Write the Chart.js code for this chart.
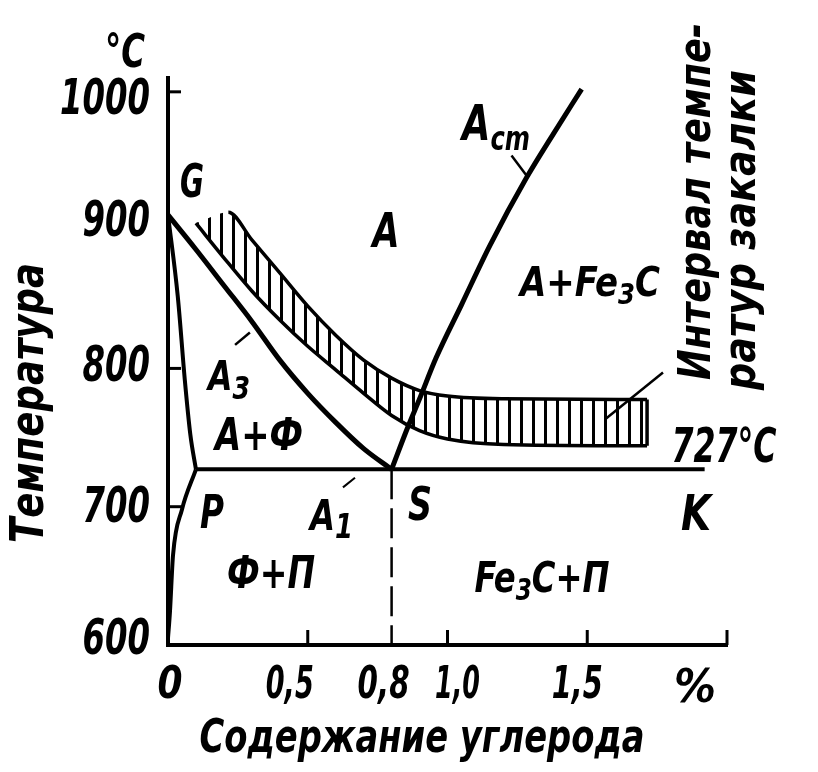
<!DOCTYPE html>
<html>
<head>
<meta charset="utf-8">
<script src="https://cdn.jsdelivr.net/npm/chart.js@4.4.1/dist/chart.umd.min.js"></script>
<style>
    html, body { margin: 0; padding: 0; background: #fff; }
    #wrap { width: 818px; height: 772px; position: relative; }
</style>
</head>
<body>
<div id="wrap"><canvas id="diagram"></canvas></div>
<script>
// Axis ticks: carbon content, % / temperature, °C
const xTicks = [0, 0.5, 0.8, 1.0, 1.5];
const xTickLabels = ['0', '0,5', '0,8', '1,0', '1,5'];
const xTickMarks = [0.5, 1.0, 1.5, 2.0];
const yTicks = [600, 700, 800, 900, 1000];
const yTickMarks = [700, 800, 1000];

// Phase lines [carbon %, temperature]
const gpLine = [[0, 911], [0.035, 852], [0.06, 792], [0.08, 752], [0.1, 727]];
const pqLine = [[0, 605], [0.007, 624], [0.018, 665], [0.05, 698], [0.1, 727]];
const a3Line = [[0, 911], [0.1, 886], [0.2, 860], [0.3, 834], [0.4, 806], [0.5, 782], [0.6, 761], [0.7, 742], [0.8, 727]];
const acmLine = [[0.8, 727], [0.855, 756], [0.9, 778], [0.96, 808], [1.05, 846], [1.152, 889], [1.283, 938], [1.38, 970], [1.48, 1002]];
const a1Line = [[0.1, 727], [1.92, 727]];
const sDrop = [[0.8, 727], [0.8, 600]];

// Quench temperature interval (hatched band)
const bandTop = [[0.1, 905], [0.216, 913], [0.3, 893], [0.4, 869], [0.5, 845], [0.6, 824], [0.7, 806], [0.8, 793], [0.9, 784], [1.0, 780], [1.2, 778], [1.714, 777.5]];
const bandBottom = [[0.1, 905], [0.2, 880], [0.3, 856], [0.4, 835], [0.5, 816], [0.6, 799], [0.7, 782], [0.8, 766], [0.9, 755], [1.0, 749], [1.2, 745], [1.714, 744]];
const bandEnd = [[1.714, 777.5], [1.714, 744]];

// Leader lines for labels
const a3Leader = [[0.24, 817], [0.293, 826]];
const a1Leader = [[0.626, 714], [0.669, 721]];
const acmLeader = [[1.229, 954], [1.288, 938]];
const bandLeader = [[1.563, 763], [1.771, 797]];

const FONT = "'DejaVu Sans Condensed', 'DejaVu Sans', sans-serif";

function fontStr(size) {
    return 'italic bold ' + size + 'px ' + FONT;
}

// hatch pattern: vertical stripes
function makeHatch() {
    const c = document.createElement('canvas');
    c.width = 12;
    c.height = 12;
    const g = c.getContext('2d');
    g.fillStyle = '#000';
    g.fillRect(4, 0, 3, 12);
    return g.createPattern(c, 'repeat');
}

function line(points, width, extra) {
    return Object.assign({
        data: points.map(p => ({ x: p[0], y: p[1] })),
        borderColor: '#000',
        borderWidth: width,
        pointRadius: 0,
        fill: false,
        tension: 0
    }, extra || {});
}

const smooth = { cubicInterpolationMode: 'monotone' };

// text with sub-parts: [text, sizeFactor, dyFactor]; narrowed to opt.width
function rich(ctx, parts, x, y, opt) {
    ctx.save();
    ctx.translate(x, y);
    if (opt.rotate) ctx.rotate(opt.rotate);
    ctx.textBaseline = 'alphabetic';
    ctx.textAlign = 'left';
    ctx.fillStyle = '#000';
    let total = 0;
    const widths = parts.map(p => {
        ctx.font = fontStr(opt.size * (p[1] || 1));
        const w = ctx.measureText(p[0]).width;
        total += w;
        return w;
    });
    if (opt.width) ctx.scale(opt.width / total, 1);
    let cx = -total / 2;
    if (opt.align === 'left') cx = 0;
    if (opt.align === 'right') cx = -total;
    parts.forEach((p, i) => {
        ctx.font = fontStr(opt.size * (p[1] || 1));
        ctx.fillText(p[0], cx, (p[2] || 0) * opt.size);
        cx += widths[i];
    });
    ctx.restore();
}

const labels = [
    { parts: [['°C']], x: 125, y: 67, size: 46, width: 40 },
    { parts: [['G']], x: 192, y: 197, size: 46, width: 24 },
    { parts: [['A']], x: 386, y: 247, size: 48, width: 27 },
    { parts: [['A'], ['cm', 0.66, 0.2]], x: 462, y: 140, size: 50, align: 'left', width: 68 },
    { parts: [['A+Fe'], ['3', 0.72, 0.2], ['C']], x: 520, y: 296, size: 40, align: 'left', width: 140 },
    { parts: [['A'], ['3', 0.8, 0.22]], x: 208, y: 390, size: 40, align: 'left', width: 42 },
    { parts: [['A+Ф']], x: 259, y: 450, size: 44, width: 88 },
    { parts: [['P']], x: 212, y: 528, size: 46, width: 24 },
    { parts: [['A'], ['1', 0.8, 0.2]], x: 310, y: 530, size: 42, align: 'left', width: 43 },
    { parts: [['S']], x: 420, y: 520, size: 46, width: 24 },
    { parts: [['K']], x: 696, y: 530, size: 50, width: 30 },
    { parts: [['Ф+П']], x: 271, y: 588, size: 44, width: 88 },
    { parts: [['Fe'], ['3', 0.72, 0.2], ['C+П']], x: 542, y: 592, size: 42, width: 135 },
    { parts: [['727°C']], x: 724, y: 462, size: 48, width: 105 },
    { parts: [['%']], x: 695, y: 702, size: 46, width: 42 },
    { parts: [['Содержание углерода']], x: 422, y: 752, size: 46, width: 445 },
    { parts: [['Температура']], x: 43, y: 543, size: 46, width: 280, align: 'left', rotate: -Math.PI / 2 },
    { parts: [['Интервал темпе-']], x: 710, y: 380, size: 44, width: 357, align: 'left', rotate: -Math.PI / 2 },
    { parts: [['ратур закалки']], x: 755, y: 390, size: 44, width: 320, align: 'left', rotate: -Math.PI / 2 }
];

// hand-lettered tick labels sit a little off their ticks
const xLabelWidths = [25, 48, 52, 45, 51];
const xLabelShift = [2, -18, -8, 10, -10];
const yLabelDrop = [9, 15, 13, 6, 22];

const decorPlugin = {
    id: 'decor',
    afterDraw(chart) {
        const ctx = chart.ctx;
        const xs = chart.scales.x;
        const ys = chart.scales.y;
        ctx.save();
        ctx.strokeStyle = '#000';
        ctx.lineWidth = 3;
        // inward tick marks
        yTickMarks.forEach(v => {
            const py = ys.getPixelForValue(v);
            ctx.beginPath();
            ctx.moveTo(xs.left, py);
            ctx.lineTo(xs.left + 13, py);
            ctx.stroke();
        });
        xTickMarks.forEach(v => {
            const px = xs.getPixelForValue(v);
            ctx.beginPath();
            ctx.moveTo(px, ys.bottom);
            ctx.lineTo(px, ys.bottom - 15);
            ctx.stroke();
        });
        ctx.restore();

        // tick labels in narrow drafting style
        ys.ticks.forEach((t, i) => {
            const s = String(t.value);
            rich(ctx, [[s]], xs.left - 18, ys.getPixelForValue(t.value) + yLabelDrop[i],
                { size: 50, align: 'right', width: 22.5 * s.length });
        });
        xs.ticks.forEach((t, i) => {
            rich(ctx, [[xTickLabels[i]]], xs.getPixelForValue(t.value) + xLabelShift[i], ys.bottom + 53,
                { size: 44, width: xLabelWidths[i] });
        });

        labels.forEach(l => rich(ctx, l.parts, l.x, l.y, l));
    }
};

const hatch = makeHatch();

new Chart(document.getElementById('diagram'), {
    type: 'line',
    data: {
        datasets: [
            line(bandTop, 3.5, Object.assign({
                fill: '+1',
                backgroundColor: hatch,
                segment: { borderColor: c => c.p0DataIndex === 0 ? 'rgba(0,0,0,0)' : '#000' }
            }, smooth)),
            line(bandBottom, 3.5, smooth),
            line(bandEnd, 3.5),
            line(gpLine, 4, smooth),
            line(pqLine, 4, smooth),
            line(a3Line, 5, smooth),
            line(acmLine, 5, smooth),
            line(a1Line, 4),
            line(sDrop, 2.5, { borderDash: [30, 9] }),
            line(a3Leader, 2.5),
            line(a1Leader, 2),
            line(acmLeader, 2.5),
            line(bandLeader, 2.5)
        ]
    },
    options: {
        responsive: true,
        maintainAspectRatio: false,
        animation: false,
        events: [],
        layout: { padding: { top: 78, right: 91, left: 0, bottom: 0 } },
        plugins: {
            legend: { display: false },
            tooltip: { enabled: false }
        },
        scales: {
            x: {
                type: 'linear',
                min: 0,
                max: 2.0,
                afterFit: s => { s.height = 127; },
                afterBuildTicks: s => { s.ticks = xTicks.map(v => ({ value: v })); },
                grid: { display: false, drawTicks: false },
                border: { display: true, color: '#000', width: 4 },
                ticks: { display: false }
            },
            y: {
                type: 'linear',
                min: 600,
                max: 1010,
                afterFit: s => { s.width = 168; },
                afterBuildTicks: s => { s.ticks = yTicks.map(v => ({ value: v })); },
                grid: { display: false, drawTicks: false },
                border: { display: true, color: '#000', width: 4 },
                ticks: { display: false }
            }
        }
    },
    plugins: [decorPlugin]
});
</script>
</body>
</html>
